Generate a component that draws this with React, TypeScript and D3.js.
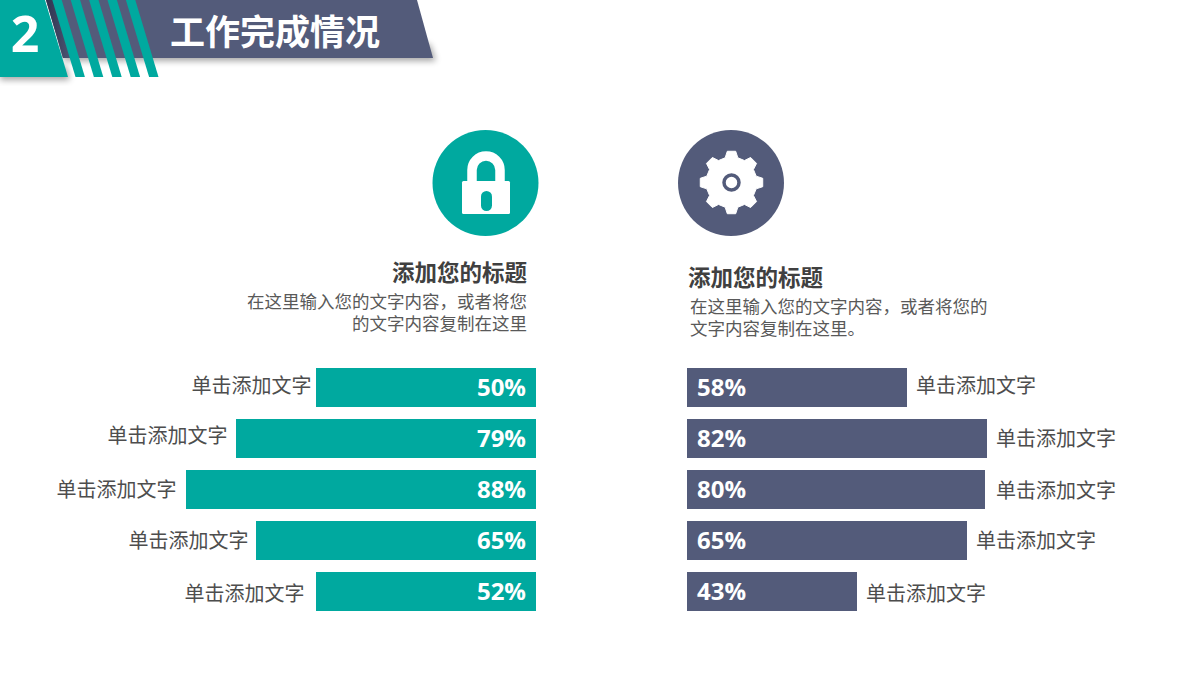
import * as d3 from "d3";

const rows = ["a", "b", "c", "d", "e"];
const leftLabels = ["50%", "79%", "88%", "65%", "52%"];
const rightLabels = ["58%", "82%", "80%", "65%", "43%"];
// drawn bar lengths (they don't follow the printed percentages)
const leftLengths = [55, 75, 87.5, 70, 55];
const rightLengths = [55, 75, 74.5, 70, 42.5];
const barText = "单击添加文字";
const stripes = [0, 1, 2, 3, 4];

// hand tuned label placement per row
const leftGap = [5, 9, 10, 8, 12];
const rightGap = [9, 9, 11, 9, 9];
const leftNudge = [-2, -3, 0, 0, 2];
const rightNudge = [-2, 0, 1, 0, 2];

const TEAL = "#00a99f";
const SLATE = "#535b7a";
const CJK = "'Noto Sans CJK SC', 'Noto Sans', sans-serif";
const LATIN = "'Open Sans', 'Noto Sans', sans-serif";

const y = d3.scaleBand().domain(rows).range([368, 611]).paddingInner(12 / 51).paddingOuter(0);
const len = d3.scaleLinear().domain([0, 100]).range([0, 400]);

const gearPath = () => {
  const teeth = 8;
  const pts: [number, number][] = [];
  for (let i = 0; i < teeth; i++) {
    const a = (i * 2 * Math.PI) / teeth;
    const s = (2 * Math.PI) / teeth;
    pts.push([a - s * 0.32, 25.5], [a - s * 0.17, 31.5], [a + s * 0.17, 31.5], [a + s * 0.32, 25.5]);
  }
  return d3.lineRadial().curve(d3.curveLinearClosed)(pts) as string;
};

const Header = () => (
  <g>
    <defs>
      <filter id="soft" x="-10%" y="-30%" width="120%" height="170%">
        <feGaussianBlur stdDeviation="3" />
      </filter>
      <linearGradient id="fold" x1="0" x2="1" y1="0" y2="0">
        <stop offset="0" stopColor="#2f3450" />
        <stop offset="1" stopColor={SLATE} />
      </linearGradient>
    </defs>
    <polygon points="64,61 436,61 430,44 60,44" fill="#000" opacity={0.35} filter="url(#soft)" />
    <polygon points="0,80 70,80 66,66 0,66" fill="#000" opacity={0.35} filter="url(#soft)" />
    <polygon points="46,0 417,0 433,58 63,58" fill={SLATE} />
    <polygon points="46,0 60,0 76,58 63,58" fill="url(#fold)" />
    <polygon points="0,0 45,0 68,77 0,77" fill={TEAL} />
    {stripes.map((i) => {
      const x0 = 52.3 + i * 18.4;
      return (
        <polygon
          key={i}
          points={`${x0},0 ${x0 + 9.4},0 ${x0 + 32.6},77 ${x0 + 23.2},77`}
          fill={TEAL}
        />
      );
    })}
    <text x={25} y={52} textAnchor="middle" fontFamily={LATIN} fontWeight={700} fontSize={50} fill="#fff">
      2
    </text>
    <text x={170} y={45} fontFamily={CJK} fontWeight={700} fontSize={35} fill="#fff">
      工作完成情况
    </text>
  </g>
);

const Lock = () => (
  <g>
    <circle cx={485.5} cy={183} r={53} fill={TEAL} />
    <path d="M472,184V170a14,14 0 0 1 28,0V184" fill="none" stroke="#fff" strokeWidth={9.5} />
    <rect x={462} y={181} width={48} height={33} rx={1.5} fill="#fff" />
    <rect x={481} y={191} width={11} height={20} rx={5.5} fill={TEAL} />
  </g>
);

const Gear = () => (
  <g>
    <circle cx={731} cy={183} r={53} fill={SLATE} />
    <path d={gearPath()} transform="translate(731.5,182.5)" fill="#fff" stroke="#fff" strokeWidth={1} strokeLinejoin="round" />
    <circle cx={731.5} cy={182.5} r={7.5} fill="#fff" stroke={SLATE} strokeWidth={3.5} />
  </g>
);

const App = () => (
  <svg width={1200} height={680} style={{ position: "absolute", left: 0, top: 0, background: "#fff" }}>
    <Header />
    <Lock />
    <Gear />

    <g fontFamily={CJK}>
      <text x={527} y={271} textAnchor="end" dominantBaseline="central" fontWeight={700} fontSize={22.5} fill="#404040">
        添加您的标题
      </text>
      <text textAnchor="end" fontSize={17.5} fill="#595959">
        <tspan x={527} y={308}>在这里输入您的文字内容，或者将您</tspan>
        <tspan x={527} y={330}>的文字内容复制在这里</tspan>
      </text>
      <text x={688} y={276} dominantBaseline="central" fontWeight={700} fontSize={22.5} fill="#404040">
        添加您的标题
      </text>
      <text fontSize={17.5} fill="#595959">
        <tspan x={690} y={313}>在这里输入您的文字内容，或者将您的</tspan>
        <tspan x={690} y={335}>文字内容复制在这里。</tspan>
      </text>
    </g>

    {rows.map((r, i) => {
      const w = len(leftLengths[i]);
      const cy = (y(r) as number) + y.bandwidth() / 2;
      return (
        <g key={r}>
          <rect x={536 - w} y={y(r)} width={w} height={y.bandwidth()} fill={TEAL} />
          <text x={526} y={cy - 1} textAnchor="end" dominantBaseline="central" fontFamily={LATIN} fontWeight={700} fontSize={24} fill="#fff">
            {leftLabels[i]}
          </text>
          <text x={536 - w - leftGap[i] + 0.5} y={cy - 1 + leftNudge[i]} textAnchor="end" dominantBaseline="central" fontFamily={CJK} fontSize={20} fill="#4d4d4d">
            {barText}
          </text>
        </g>
      );
    })}

    {rows.map((r, i) => {
      const w = len(rightLengths[i]);
      const cy = (y(r) as number) + y.bandwidth() / 2;
      return (
        <g key={r}>
          <rect x={687} y={y(r)} width={w} height={y.bandwidth()} fill={SLATE} />
          <text x={697} y={cy - 1} dominantBaseline="central" fontFamily={LATIN} fontWeight={700} fontSize={24} fill="#fff">
            {rightLabels[i]}
          </text>
          <text x={687 + w + rightGap[i]} y={cy - 1 + rightNudge[i]} dominantBaseline="central" fontFamily={CJK} fontSize={20} fill="#4d4d4d">
            {barText}
          </text>
        </g>
      );
    })}
  </svg>
);

export default App;
